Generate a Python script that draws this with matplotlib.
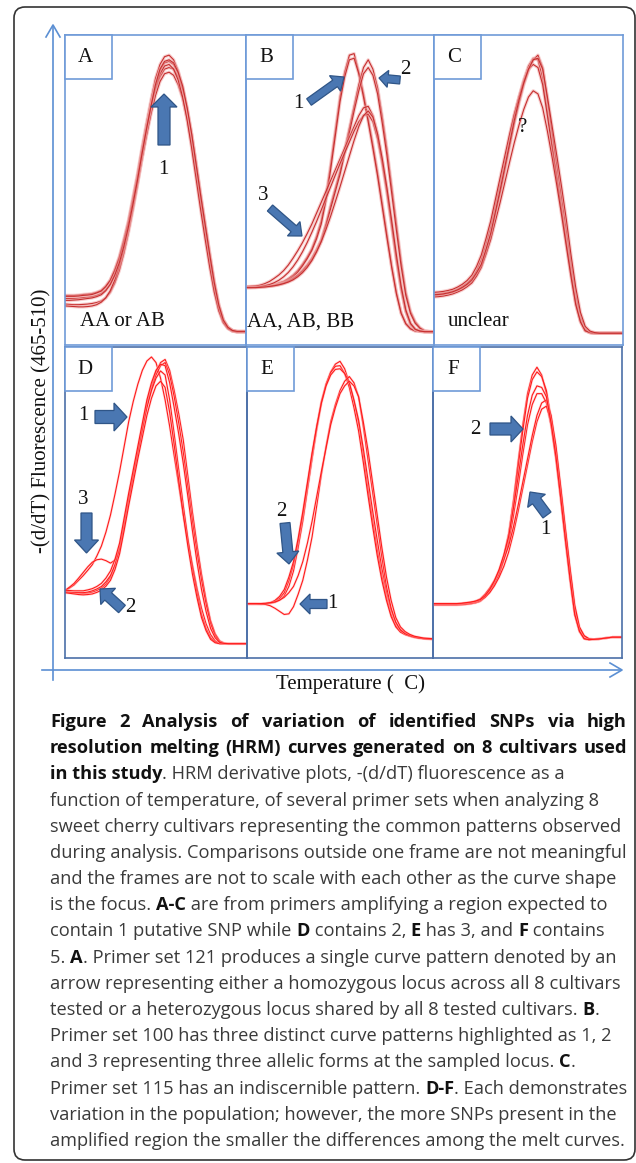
import matplotlib
matplotlib.use("Agg")
import matplotlib.pyplot as plt
from matplotlib.patches import FancyArrow, FancyBboxPatch, Rectangle

# melt temperature axis, in percent of each frame width
TEMP = [0, 2.5, 5, 7.5, 10, 12.5, 15, 17.5, 20, 22.5, 25, 27.5, 30, 32.5, 35, 37.5, 40, 42.5, 45, 47.5, 50,
        52.5, 55, 57.5, 60, 62.5, 65, 67.5, 70, 72.5, 75, 77.5, 80, 82.5, 85, 87.5, 90, 92.5, 95, 97.5, 100]

# -(d/dT) fluorescence, in percent of each frame height
A_CURVES = [
    [16.0, 16.0, 16.0, 16.1, 16.3, 16.4, 16.6, 17.0, 17.6, 19.0, 21.0, 24.3, 28.5, 34.0, 40.0, 47.5, 55.0, 63.5, 71.5, 79.0, 86.0,
     90.5, 93.0, 93.5, 92.0, 88.5, 83.0, 75.0, 65.5, 55.0, 45.0, 35.5, 26.0, 18.0, 11.5, 7.5, 5.5, 4.6, 4.3, 4.3, 4.3],
    [15.0, 15.0, 15.0, 15.1, 15.3, 15.4, 15.6, 16.0, 16.6, 17.8, 19.8, 23.0, 27.2, 32.5, 38.5, 45.8, 53.5, 62.0, 70.0, 77.5, 84.0,
     88.5, 91.0, 91.5, 90.5, 87.5, 82.5, 75.5, 66.5, 56.5, 46.5, 37.0, 27.5, 19.0, 12.2, 7.8, 5.6, 4.6, 4.3, 4.3, 4.3],
    [13.2, 13.1, 13.0, 13.0, 13.1, 13.2, 13.4, 13.7, 14.2, 15.2, 17.0, 20.0, 24.0, 29.5, 36.0, 43.5, 51.5, 60.0, 68.0, 75.5, 82.0,
     86.5, 89.0, 89.5, 89.0, 86.5, 82.5, 76.0, 68.0, 58.5, 48.5, 39.0, 29.5, 20.5, 13.0, 8.2, 5.8, 4.7, 4.4, 4.4, 4.4],
    [12.6, 12.5, 12.4, 12.3, 12.3, 12.4, 12.6, 13.0, 13.8, 15.2, 17.5, 21.0, 25.5, 31.0, 37.5, 44.5, 52.0, 60.0, 67.5, 74.5, 80.5,
     85.0, 87.5, 88.0, 87.0, 84.0, 79.5, 73.0, 64.5, 55.0, 45.5, 36.0, 27.0, 18.5, 12.0, 7.6, 5.5, 4.5, 4.3, 4.3, 4.3],
    [15.7, 15.7, 15.7, 15.8, 16.0, 16.1, 16.3, 16.8, 17.4, 18.8, 20.8, 24.0, 28.0, 33.3, 39.3, 46.5, 54.0, 62.3, 70.0, 77.0, 83.0,
     87.5, 90.0, 90.5, 89.0, 85.5, 80.0, 72.5, 63.5, 53.5, 43.5, 34.0, 25.0, 17.0, 11.0, 7.2, 5.3, 4.5, 4.2, 4.2, 4.2],
    [14.4, 14.4, 14.5, 14.6, 14.8, 15.0, 15.2, 15.6, 16.2, 17.5, 19.5, 22.5, 26.5, 31.8, 38.0, 45.3, 53.0, 61.5, 69.5, 77.0, 84.0,
     89.0, 91.5, 92.0, 91.0, 88.0, 83.5, 76.5, 68.0, 58.0, 48.0, 38.5, 29.0, 20.0, 12.8, 8.0, 5.7, 4.7, 4.4, 4.4, 4.4],
]
B_CURVES = [
    [18.8, 18.8, 18.8, 18.9, 19.0, 19.2, 19.5, 20.0, 20.5, 21.4, 22.5, 24.0, 26.0, 28.3, 31.0, 35.0, 40.0, 48.0, 58.0, 69.0, 80.0,
     88.0, 93.5, 94.0, 88.0, 81.0, 73.0, 64.5, 55.5, 45.5, 35.5, 25.5, 17.0, 10.5, 7.0, 5.3, 4.6, 4.4, 4.3, 4.3, 4.3],
    [18.6, 18.6, 18.6, 18.7, 18.8, 19.0, 19.3, 19.7, 20.2, 21.0, 22.0, 23.5, 25.5, 27.8, 30.5, 34.2, 39.0, 46.5, 56.5, 67.5, 78.5,
     86.5, 92.0, 92.5, 87.5, 80.0, 72.0, 63.5, 54.5, 44.5, 34.5, 25.0, 16.5, 10.2, 6.8, 5.2, 4.5, 4.4, 4.3, 4.3, 4.3],
    [18.8, 18.8, 18.8, 18.9, 19.0, 19.1, 19.3, 19.6, 20.0, 20.7, 21.5, 22.6, 24.0, 25.8, 28.0, 30.8, 34.0, 39.0, 45.0, 50.5, 56.0,
     63.0, 70.0, 77.0, 84.0, 89.5, 92.0, 89.0, 83.0, 73.5, 63.0, 51.0, 39.0, 27.0, 17.0, 10.8, 7.5, 5.6, 4.6, 4.4, 4.3],
    [18.7, 18.7, 18.7, 18.8, 18.9, 19.0, 19.2, 19.5, 19.9, 20.5, 21.3, 22.4, 23.8, 25.5, 27.5, 30.2, 33.5, 38.3, 44.0, 49.5, 55.0,
     61.8, 68.5, 75.5, 82.0, 87.5, 89.5, 87.0, 81.0, 71.5, 61.0, 49.0, 37.0, 25.5, 16.0, 10.2, 7.0, 5.4, 4.5, 4.3, 4.3],
    [18.8, 18.9, 19.0, 19.3, 19.8, 20.5, 21.5, 22.6, 24.0, 25.8, 28.0, 30.4, 33.0, 35.9, 39.0, 42.5, 46.0, 49.5, 53.0, 56.5, 60.0,
     63.5, 67.0, 70.5, 74.0, 76.5, 77.0, 74.0, 68.0, 59.5, 50.0, 39.0, 28.0, 18.5, 11.0, 6.8, 5.0, 4.5, 4.3, 4.3, 4.3],
    [18.5, 18.5, 18.6, 18.8, 19.1, 19.5, 20.1, 20.9, 22.0, 23.4, 25.2, 27.4, 30.0, 33.0, 36.3, 39.8, 43.5, 47.3, 51.0, 54.8, 58.5,
     62.0, 65.5, 69.0, 72.0, 74.0, 74.5, 72.0, 66.5, 58.5, 49.0, 38.5, 27.5, 18.0, 10.8, 6.7, 5.0, 4.5, 4.3, 4.3, 4.3],
    [18.5, 18.5, 18.5, 18.6, 18.7, 18.9, 19.1, 19.4, 19.8, 20.3, 21.0, 22.0, 23.3, 25.0, 27.2, 30.0, 33.3, 37.2, 41.5, 46.2, 51.0,
     56.0, 61.0, 66.0, 70.5, 74.0, 75.5, 73.5, 68.0, 60.0, 50.5, 40.0, 29.0, 19.0, 11.3, 7.0, 5.1, 4.5, 4.3, 4.3, 4.3],
]
C_CURVES = [
    [16.5, 16.6, 16.8, 17.1, 17.5, 18.1, 19.0, 20.0, 21.5, 24.0, 27.5, 32.5, 38.0, 45.0, 52.0, 59.5, 67.0, 74.0, 80.0, 85.5, 90.0,
     92.5, 92.0, 86.0, 75.5, 65.0, 55.0, 44.5, 34.0, 23.5, 14.0, 8.0, 4.8, 4.0, 3.8, 3.8, 3.8, 3.8, 3.8, 3.8, 3.8],
    [16.0, 16.1, 16.3, 16.6, 17.0, 17.6, 18.3, 19.3, 20.5, 22.7, 25.5, 30.0, 35.0, 42.0, 49.0, 56.5, 64.0, 71.5, 78.0, 84.0, 88.5,
     92.0, 93.5, 89.5, 79.0, 68.5, 58.0, 47.5, 37.0, 26.0, 16.0, 9.0, 5.2, 4.1, 3.8, 3.8, 3.8, 3.8, 3.8, 3.8, 3.8],
    [17.0, 17.1, 17.3, 17.6, 18.0, 18.7, 19.6, 20.8, 22.5, 25.3, 29.0, 34.3, 40.0, 47.0, 54.0, 61.0, 68.0, 74.5, 80.0, 85.0, 89.0,
     90.5, 89.5, 84.0, 74.0, 63.5, 53.5, 43.5, 33.0, 23.0, 13.5, 7.7, 4.6, 4.0, 3.8, 3.8, 3.8, 3.8, 3.8, 3.8, 3.8],
    [15.5, 15.6, 15.8, 16.1, 16.5, 17.1, 17.8, 18.8, 20.0, 22.2, 25.0, 29.3, 34.0, 40.0, 46.0, 52.5, 59.0, 65.3, 71.0, 76.0, 80.0,
     82.0, 81.0, 76.5, 69.0, 60.5, 51.5, 42.0, 32.0, 22.0, 13.0, 7.4, 4.6, 4.0, 3.8, 3.8, 3.8, 3.8, 3.8, 3.8, 3.8],
    [16.2, 16.3, 16.5, 16.8, 17.2, 17.8, 18.6, 19.6, 21.0, 23.3, 26.0, 30.8, 36.0, 43.0, 50.0, 57.5, 65.0, 72.5, 79.0, 84.5, 89.0,
     92.0, 92.5, 89.0, 80.0, 70.5, 61.0, 51.0, 40.5, 29.0, 18.5, 10.5, 6.0, 4.5, 4.0, 3.8, 3.8, 3.8, 3.8, 3.8, 3.8],
]
D_CURVES = [
    [21.7, 22.5, 23.5, 25.0, 26.5, 28.2, 30.0, 32.8, 36.0, 40.5, 46.0, 52.8, 60.0, 68.0, 76.0, 82.5, 88.0, 92.5, 95.5, 96.8, 95.0,
     90.0, 83.0, 74.5, 65.0, 55.5, 46.0, 37.5, 30.0, 22.5, 16.0, 11.0, 7.5, 5.5, 4.8, 4.6, 4.5, 4.5, 4.5, 4.5, 4.5],
    [21.5, 21.2, 21.0, 20.9, 20.8, 20.9, 21.2, 21.7, 22.5, 23.8, 26.0, 30.0, 36.0, 43.8, 52.0, 59.5, 67.0, 74.5, 82.0, 87.5, 92.0,
     95.0, 96.0, 92.5, 86.0, 78.5, 70.0, 58.5, 47.0, 36.5, 27.0, 18.8, 12.0, 7.8, 5.5, 4.8, 4.6, 4.6, 4.6, 4.6, 4.6],
    [21.7, 22.8, 24.0, 25.7, 27.5, 29.3, 30.8, 31.6, 31.8, 31.3, 30.5, 31.5, 35.0, 42.5, 51.0, 58.5, 66.0, 73.5, 81.0, 86.5, 91.0,
     94.0, 95.0, 91.0, 84.0, 75.5, 66.0, 55.0, 44.0, 34.0, 25.0, 17.3, 11.0, 7.2, 5.2, 4.7, 4.6, 4.6, 4.6, 4.6, 4.6],
    [21.2, 21.1, 21.0, 21.0, 21.0, 21.2, 21.6, 22.2, 23.0, 24.5, 26.5, 30.0, 35.0, 42.8, 51.0, 58.5, 66.0, 73.3, 80.5, 86.0, 90.0,
     92.3, 91.0, 83.0, 72.0, 60.5, 49.0, 38.5, 29.0, 21.0, 14.0, 9.5, 6.5, 5.2, 4.6, 4.6, 4.6, 4.6, 4.6, 4.6, 4.6],
    [21.0, 20.8, 20.6, 20.4, 20.3, 20.4, 20.6, 21.1, 21.8, 23.1, 25.0, 28.5, 33.5, 41.0, 49.0, 56.5, 64.0, 71.0, 78.0, 83.5, 87.5,
     89.0, 87.0, 79.0, 68.5, 57.0, 46.0, 36.0, 27.0, 19.5, 13.0, 8.8, 6.0, 4.9, 4.6, 4.6, 4.6, 4.6, 4.6, 4.6, 4.6],
    [21.8, 21.7, 21.6, 21.6, 21.6, 21.9, 22.3, 23.0, 24.0, 25.7, 28.0, 31.8, 37.0, 45.0, 53.0, 60.5, 68.0, 75.5, 83.0, 88.5, 92.5,
     94.5, 94.0, 88.5, 80.5, 72.0, 62.5, 52.0, 41.0, 31.0, 22.0, 15.0, 9.5, 6.5, 5.0, 4.7, 4.6, 4.6, 4.6, 4.6, 4.6],
]
E_CURVES = [
    [17.4, 17.4, 17.4, 17.4, 17.5, 17.6, 17.9, 18.6, 20.0, 23.0, 28.0, 35.5, 44.0, 54.0, 64.0, 73.5, 82.0, 88.0, 92.0, 94.5, 95.4,
     93.0, 88.5, 82.5, 75.5, 65.5, 54.5, 44.5, 35.0, 26.5, 19.5, 14.0, 10.5, 8.7, 7.8, 7.2, 6.8, 6.5, 6.3, 6.2, 6.1],
    [17.3, 17.3, 17.3, 17.3, 17.4, 17.6, 18.2, 19.2, 21.0, 24.8, 30.0, 37.5, 46.0, 55.8, 65.5, 74.5, 82.5, 88.0, 91.8, 93.8, 94.0,
     91.5, 87.0, 80.5, 73.0, 63.0, 52.5, 42.5, 33.0, 25.0, 18.5, 13.3, 10.0, 8.3, 7.5, 7.0, 6.6, 6.4, 6.2, 6.1, 6.0],
    [17.4, 17.4, 17.4, 17.4, 17.5, 17.8, 18.5, 19.8, 22.0, 26.0, 31.0, 38.5, 47.0, 56.5, 66.0, 74.5, 82.0, 87.5, 91.0, 92.8, 93.0,
     91.5, 88.5, 83.0, 76.5, 67.5, 57.5, 47.5, 38.0, 29.0, 21.5, 15.5, 11.5, 9.2, 8.0, 7.3, 6.8, 6.5, 6.3, 6.2, 6.1],
    [17.4, 17.4, 17.4, 17.3, 17.2, 16.8, 16.0, 15.0, 14.0, 14.2, 16.5, 20.5, 25.0, 31.5, 39.0, 49.0, 59.0, 68.0, 76.0, 81.5, 86.0,
     89.0, 90.5, 88.5, 84.0, 74.5, 64.0, 53.5, 43.0, 32.5, 23.0, 16.0, 11.5, 9.0, 7.8, 7.2, 6.7, 6.4, 6.2, 6.1, 6.0],
    [17.5, 17.5, 17.5, 17.5, 17.6, 17.8, 18.0, 18.6, 19.5, 21.0, 23.0, 26.5, 31.0, 37.0, 44.0, 52.0, 60.0, 67.5, 75.0, 80.5, 85.0,
     87.5, 89.0, 87.5, 84.0, 76.0, 67.0, 56.5, 46.0, 35.5, 26.0, 18.5, 13.0, 10.0, 8.5, 7.6, 7.0, 6.7, 6.4, 6.3, 6.2],
]
F_CURVES = [
    [17.4, 17.4, 17.4, 17.4, 17.4, 17.4, 17.5, 17.6, 17.8, 18.0, 18.5, 19.8, 22.0, 24.6, 28.0, 33.0, 40.0, 50.5, 63.0, 75.0, 85.0,
     91.0, 93.5, 91.0, 85.0, 76.0, 65.0, 51.5, 38.0, 25.0, 14.0, 8.5, 6.2, 5.9, 6.0, 6.1, 6.3, 6.5, 6.7, 6.7, 6.7],
    [17.0, 17.0, 17.0, 17.0, 17.0, 17.0, 17.1, 17.2, 17.4, 17.7, 18.2, 19.5, 21.5, 24.0, 27.0, 31.8, 38.5, 48.5, 61.0, 73.0, 83.5,
     89.5, 92.0, 90.5, 86.0, 77.0, 66.0, 52.5, 39.0, 26.0, 14.5, 8.8, 6.3, 5.9, 6.0, 6.1, 6.3, 6.5, 6.7, 6.7, 6.7],
    [17.3, 17.3, 17.3, 17.3, 17.3, 17.3, 17.4, 17.5, 17.7, 18.0, 18.5, 19.7, 21.5, 24.0, 27.0, 31.5, 37.0, 45.5, 55.0, 65.5, 75.0,
     81.5, 85.0, 85.0, 82.0, 74.5, 64.0, 51.5, 38.0, 25.5, 14.0, 8.6, 6.2, 5.9, 6.0, 6.1, 6.3, 6.5, 6.7, 6.7, 6.7],
    [17.2, 17.2, 17.2, 17.2, 17.2, 17.2, 17.3, 17.4, 17.6, 18.0, 18.5, 19.5, 21.0, 23.2, 26.0, 29.5, 34.0, 40.0, 47.0, 54.5, 62.0,
     69.5, 76.0, 80.0, 81.0, 76.0, 67.0, 54.5, 41.0, 28.0, 16.0, 9.5, 7.0, 6.2, 6.0, 6.1, 6.3, 6.5, 6.7, 6.7, 6.7],
    [17.4, 17.4, 17.4, 17.4, 17.4, 17.4, 17.5, 17.7, 17.9, 18.3, 19.0, 20.5, 22.5, 25.0, 28.0, 31.8, 36.0, 42.0, 49.0, 56.5, 64.0,
     71.5, 78.0, 82.0, 83.0, 78.0, 68.5, 55.5, 42.0, 29.0, 17.0, 10.0, 7.2, 6.2, 6.0, 6.1, 6.3, 6.5, 6.7, 6.7, 6.7],
    [17.5, 17.5, 17.5, 17.5, 17.5, 17.5, 17.6, 17.8, 18.0, 18.3, 18.8, 20.0, 22.0, 24.8, 28.5, 33.2, 39.0, 48.0, 58.0, 68.5, 78.0,
     84.5, 87.5, 87.0, 84.0, 75.5, 65.0, 52.0, 38.5, 25.5, 14.0, 8.6, 6.2, 5.9, 6.0, 6.1, 6.3, 6.5, 6.7, 6.7, 6.7],
]

PANEL_LETTERS = ["A", "B", "C", "D", "E", "F"]
GENOTYPE_NOTES = ["AA or AB", "AA, AB, BB", "unclear"]
NOTE_X = [80, 247, 448]

CAPTION = [
    [("Figure 2 Analysis of variation of identified SNPs via high", True)],
    [("resolution melting (HRM) curves generated on 8 cultivars used", True)],
    [("in this study", True), (". HRM derivative plots, -(d/dT) fluorescence as a", False)],
    [("function of temperature, of several primer sets when analyzing 8", False)],
    [("sweet cherry cultivars representing the common patterns observed", False)],
    [("during analysis. Comparisons outside one frame are not meaningful", False)],
    [("and the frames are not to scale with each other as the curve shape", False)],
    [("is the focus. ", False), ("A-C", True), (" are from primers amplifying a region expected to", False)],
    [("contain 1 putative SNP while ", False), ("D", True), (" contains 2, ", False), ("E", True),
     (" has 3, and ", False), ("F", True), (" contains", False)],
    [("5. ", False), ("A", True), (". Primer set 121 produces a single curve pattern denoted by an", False)],
    [("arrow representing either a homozygous locus across all 8 cultivars", False)],
    [("tested or a heterozygous locus shared by all 8 tested cultivars. ", False), ("B", True), (".", False)],
    [("Primer set 100 has three distinct curve patterns highlighted as 1, 2", False)],
    [("and 3 representing three allelic forms at the sampled locus. ", False), ("C", True), (".", False)],
    [("Primer set 115 has an indiscernible pattern. ", False), ("D-F", True), (". Each demonstrates", False)],
    [("variation in the population; however, the more SNPs present in the", False)],
    [("amplified region the smaller the differences among the melt curves.", False)],
]
JUSTIFIED = [0, 1]

W, H = 636, 1163
fig = plt.figure(figsize=(W / 100, H / 100), dpi=100)
fig.patch.set_facecolor("white")

bg = fig.add_axes([0, 0, 1, 1], zorder=0)
bg.set_xlim(0, W)
bg.set_ylim(H, 0)
bg.axis("off")

SERIF = "Liberation Serif"
BLUE_LIGHT = "#6f9bd8"
BLUE_DARK = "#4b70a8"
AXIS_BLUE = "#5b8fd3"

# outer rounded frame
bg.add_patch(FancyBboxPatch((14, 7), 621, 1153, boxstyle="round,pad=0,rounding_size=11",
                            fc="none", ec="#333333", lw=1.2))

# axis arrows
bg.plot([53, 53], [680, 26], color=AXIS_BLUE, lw=1.2)
bg.plot([46, 53, 60], [37, 25, 37], color=AXIS_BLUE, lw=1.2)
bg.plot([42, 621], [670, 670], color=AXIS_BLUE, lw=1.2)
bg.plot([610, 622, 610], [663, 670, 677], color=AXIS_BLUE, lw=1.2)
bg.text(42, 421, "-(d/dT) Fluorescence (465-510)", rotation=90, ha="center", va="center",
        family=SERIF, fontsize=15, color="#111111")
bg.text(350, 684, "Temperature (  C)", ha="center", va="center", family=SERIF,
        fontsize=15, color="#111111")

frames = [(65, 35, 246, 345), (246, 35, 434, 345), (434, 35, 623, 345),
          (65, 347, 247, 658), (247, 347, 433, 658), (433, 347, 622, 658)]
all_curves = [A_CURVES, B_CURVES, C_CURVES, D_CURVES, E_CURVES, F_CURVES]

for i, ((x0, y0, x1, y1), curves) in enumerate(zip(frames, all_curves)):
    ax = fig.add_axes([x0 / W, 1 - y1 / H, (x1 - x0) / W, (y1 - y0) / H], zorder=2)
    ax.set_xlim(0, 100)
    ax.set_ylim(0, 100)
    ax.set_xticks([])
    ax.set_yticks([])
    ax.patch.set_alpha(0)
    top_row = i < 3
    for sp in ax.spines.values():
        sp.set_color(BLUE_LIGHT if top_row else BLUE_DARK)
        sp.set_linewidth(1.2)
    for c in curves:
        if top_row:
            ax.plot(TEMP, c, color="#f1a7a7", lw=2.4, alpha=0.55, solid_joinstyle="round")
            ax.plot(TEMP, c, color="#c62f2f", lw=0.8, solid_joinstyle="round")
        else:
            ax.plot(TEMP, c, color="#ffb3b3", lw=1.8, alpha=0.45, solid_joinstyle="round")
            ax.plot(TEMP, c, color="#ff1a1a", lw=0.8, solid_joinstyle="round")

ov = fig.add_axes([0, 0, 1, 1], zorder=5)
ov.set_xlim(0, W)
ov.set_ylim(H, 0)
ov.axis("off")
ov.patch.set_alpha(0)

# letter boxes
for (x0, y0, x1, y1), letter in zip(frames, PANEL_LETTERS):
    ov.add_patch(Rectangle((x0, y0), 47, 44, fc="white", ec=BLUE_LIGHT, lw=1.2))
    ov.text(x0 + 20, y0 + 23, letter, ha="center", va="center", family=SERIF,
            fontsize=15, color="#111111")

for x, note in zip(NOTE_X, GENOTYPE_NOTES):
    ov.text(x, 322, note, ha="left", va="center", family=SERIF, fontsize=15, color="#111111")

# block arrows: tail x, tail y, tip x, tip y, body width, head width, head length
arrows = [
    (164, 145, 164, 94, 12, 26, 13),
    (309, 102, 344, 77, 8, 19, 11),
    (400, 80, 379, 78, 8, 17, 9),
    (270, 208, 302, 236, 8, 19, 11),
    (95, 417, 127, 417, 13, 28, 13),
    (86.5, 513, 86.5, 553, 11, 24, 13),
    (122, 609, 100, 589, 10, 22, 11),
    (285, 523, 289, 564, 10, 22, 12),
    (327, 604, 300, 604, 9, 20, 10),
    (490, 429, 523, 429, 12, 26, 12),
    (547, 515, 530, 492, 10, 22, 11),
]
for tx, ty, hx, hy, bw, hw, hl in arrows:
    ov.add_patch(FancyArrow(tx, ty, hx - tx, hy - ty, width=bw, head_width=hw, head_length=hl,
                            length_includes_head=True, fc="#4a77b2", ec="#2f5587", lw=0.9))

marks = [("1", 163, 170), ("1", 298, 103), ("2", 405, 70), ("3", 263, 195), ("?", 523, 128),
         ("1", 83, 416), ("3", 83, 500), ("2", 130, 607), ("2", 281, 512), ("1", 332, 604),
         ("2", 475, 429), ("1", 545, 529)]
for s, x, y in marks:
    ov.text(x, y, s, ha="center", va="center", family=SERIF, fontsize=15, color="#111111")

# caption
renderer = fig.canvas.get_renderer()


def seg_width(s, bold, size):
    t = fig.text(0, 0, "|" + s + "|", fontsize=size, family="Open Sans",
                 fontweight="bold" if bold else "normal")
    w1 = t.get_window_extent(renderer).width
    t.set_text("||")
    w2 = t.get_window_extent(renderer).width
    t.remove()
    return w1 - w2


ref = seg_width(CAPTION[4][0][0], False, 10)
cap_size = 10 * 571 / ref
x_left, x_right = 50, 627
y_first, y_last = 722, 1141
step = (y_last - y_first) / (len(CAPTION) - 1)
for i, line in enumerate(CAPTION):
    y = y_first + i * step
    if i in JUSTIFIED:
        words = line[0][0].split(" ")
        widths = [seg_width(w, True, cap_size) for w in words]
        gap = (x_right - x_left - sum(widths)) / (len(words) - 1)
        x = x_left
        for w, wd in zip(words, widths):
            ov.text(x, y, w, ha="left", va="center", family="Open Sans", fontsize=cap_size,
                    fontweight="bold", color="#111111")
            x += wd + gap
        continue
    x = x_left
    for s, bold in line:
        ov.text(x, y, s, ha="left", va="center", family="Open Sans", fontsize=cap_size,
                fontweight="bold" if bold else "normal",
                color="#111111" if bold else "#3a3a3a")
        x += seg_width(s, bold, cap_size)

fig.savefig("out.png", dpi=100)
